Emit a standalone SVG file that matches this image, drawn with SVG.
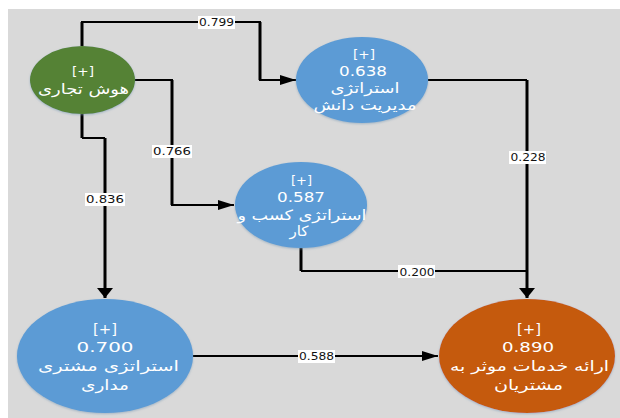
<svg xmlns="http://www.w3.org/2000/svg" width="620" height="418" viewBox="0 0 620 418">
<defs>
<marker id="arrow-right" markerUnits="userSpaceOnUse" markerWidth="16" markerHeight="10" refX="16" refY="5" orient="auto"><path d="M0,0 L16,5 L0,10 Z" fill="#000"/></marker>
<marker id="arrow-down" markerUnits="userSpaceOnUse" markerWidth="10" markerHeight="16" refX="10" refY="8" orient="auto"><path d="M0,0 L10,8 L0,16 Z" fill="#000"/></marker>
<filter id="glow" x="-10%" y="-10%" width="120%" height="120%"><feDropShadow dx="0" dy="1" stdDeviation="1" flood-color="#7f9db8" flood-opacity="0.6"/></filter>
</defs>
<style>
.bg{fill:#d9d9d9}
.n{filter:url(#glow)}
.blue{fill:#5b9bd5}
.green{fill:#548235}
.orange{fill:#c55a11}
.t{font-family:"DejaVu Sans","Noto Sans",sans-serif;fill:#fff;text-anchor:middle}
.t12{font-size:13px}
.t14{font-size:14px}
.c{fill:none;stroke:#000;stroke-width:2}
.v{fill:none;stroke:#000;stroke-width:3}
.lb{fill:#fff}
.l{font-family:"DejaVu Sans",sans-serif;font-size:11px;fill:#111;text-anchor:middle}
</style>
<rect class="bg" x="8" y="9" width="612" height="409"/>
<g id="connectors">
<g id="c-hoosh-knowledge"><path class="c" marker-end="url(#arrow-right)" d="M82,46 V22 H260 V80 H296"/><path class="v" d="M82,46 V22 M260,22 V80"/></g>
<g id="c-hoosh-business"><path class="c" marker-end="url(#arrow-right)" d="M135,80 H172 V205 H234"/><path class="v" d="M172,80 V205"/></g>
<g id="c-hoosh-customer"><path class="c" d="M82,138 H105"/><path class="v" marker-end="url(#arrow-down)" d="M82,114 V138 M105,138 V298"/></g>
<g id="c-knowledge-service"><path class="c" d="M428,80 H527"/><path class="v" marker-end="url(#arrow-down)" d="M527,80 V298"/></g>
<g id="c-business-service"><path class="c" d="M301,271 H527"/><path class="v" d="M301,248 V271"/></g>
<path id="c-customer-service" class="c" marker-end="url(#arrow-right)" d="M193,356 H438"/>
<rect class="lb" x="198" y="16" width="37" height="13"/><text class="l" x="216.500" y="26" textLength="35" lengthAdjust="spacingAndGlyphs">0.799</text>
<rect class="lb" x="152" y="145" width="40" height="13"/><text class="l" x="172" y="155" textLength="38" lengthAdjust="spacingAndGlyphs">0.766</text>
<rect class="lb" x="85" y="193" width="40" height="13"/><text class="l" x="105" y="203" textLength="38" lengthAdjust="spacingAndGlyphs">0.836</text>
<rect class="lb" x="509" y="151" width="37" height="13"/><text class="l" x="528" y="161" textLength="35" lengthAdjust="spacingAndGlyphs">0.228</text>
<rect class="lb" x="398" y="265" width="37" height="13"/><text class="l" x="417" y="276" textLength="35" lengthAdjust="spacingAndGlyphs">0.200</text>
<rect class="lb" x="298" y="350" width="37" height="13"/><text class="l" x="316.500" y="360" textLength="35" lengthAdjust="spacingAndGlyphs">0.588</text>
</g>
<g id="node-hoosh">
<ellipse class="n green" cx="82.500" cy="80" rx="52.500" ry="34"/>
<text class="t t12" x="83" y="76" textLength="22" lengthAdjust="spacingAndGlyphs">[+]</text>
<text class="t t14" x="83.500" y="94" textLength="91" lengthAdjust="spacingAndGlyphs">هوش تجاری</text>
</g>
<g id="node-knowledge">
<ellipse class="n blue" cx="362" cy="80" rx="66" ry="43"/>
<text class="t t12" x="364" y="59" textLength="22" lengthAdjust="spacingAndGlyphs">[+]</text>
<text class="t t14" x="363" y="76" textLength="48" lengthAdjust="spacingAndGlyphs">0.638</text>
<text class="t t14" x="365" y="93" textLength="69" lengthAdjust="spacingAndGlyphs">استراتژی</text>
<text class="t t14" x="365" y="110" textLength="103" lengthAdjust="spacingAndGlyphs">مدیریت دانش</text>
</g>
<g id="node-business">
<ellipse class="n blue" cx="301" cy="205" rx="66" ry="43"/>
<text class="t t12" x="301.500" y="185" textLength="21" lengthAdjust="spacingAndGlyphs">[+]</text>
<text class="t t14" x="301" y="202" textLength="48" lengthAdjust="spacingAndGlyphs">0.587</text>
<text class="t t14" x="302" y="220" textLength="129" lengthAdjust="spacingAndGlyphs">استراتژی کسب و</text>
<text class="t t14" x="299" y="236" textLength="19" lengthAdjust="spacingAndGlyphs">کار</text>
</g>
<g id="node-customer">
<ellipse class="n blue" cx="105" cy="356" rx="88" ry="57"/>
<text class="t t14" x="105" y="334" textLength="24" lengthAdjust="spacingAndGlyphs">[+]</text>
<text class="t t14" x="105" y="352" textLength="57" lengthAdjust="spacingAndGlyphs">0.700</text>
<text class="t t14" x="108.500" y="371" textLength="141" lengthAdjust="spacingAndGlyphs">استراتژی مشتری</text>
<text class="t t14" x="105" y="390" textLength="48" lengthAdjust="spacingAndGlyphs">مداری</text>
</g>
<g id="node-service">
<ellipse class="n orange" cx="527" cy="356" rx="88" ry="57"/>
<text class="t t14" x="529" y="334" textLength="24" lengthAdjust="spacingAndGlyphs">[+]</text>
<text class="t t14" x="528" y="352" textLength="52" lengthAdjust="spacingAndGlyphs">0.890</text>
<text class="t t14" x="529.500" y="371" textLength="159" lengthAdjust="spacingAndGlyphs">ارائه خدمات موثر به</text>
<text class="t t14" x="528.500" y="390" textLength="69" lengthAdjust="spacingAndGlyphs">مشتریان</text>
</g>
</svg>
